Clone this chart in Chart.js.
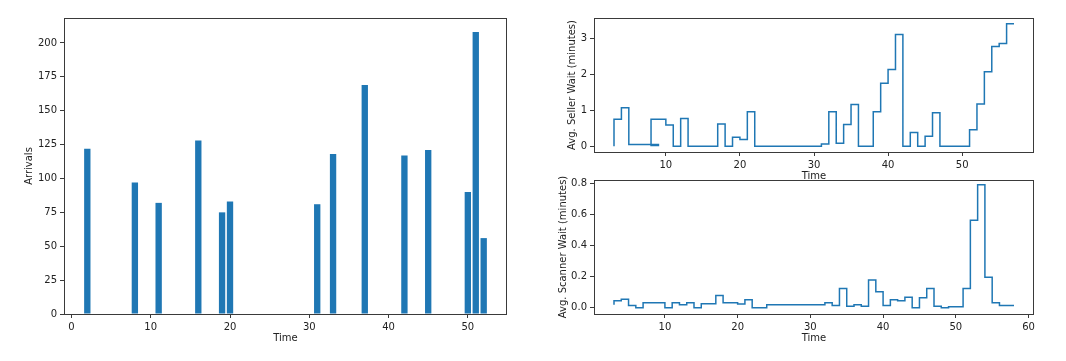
<!DOCTYPE html>
<html>
<head>
<meta charset="utf-8">
<script src="https://cdn.jsdelivr.net/npm/chart.js@4/dist/chart.umd.min.js"></script>
<style>
  html, body { margin: 0; padding: 0; background: #ffffff; }
  body { width: 1066px; height: 361px; position: relative; overflow: hidden; }
  canvas { position: absolute; }
</style>
</head>
<body>
<canvas id="c1" width="520" height="361" style="left:0px;top:0px;"></canvas>
<canvas id="c2" width="546" height="190" style="left:520px;top:0px;"></canvas>
<canvas id="c3" width="546" height="201" style="left:520px;top:160px;"></canvas>
<script>
// ---------- DATA ----------
const arrivalTimes = [2, 8, 11, 16, 19, 20, 31, 33, 37, 42, 45, 50, 51, 52];
const arrivals     = [122, 97, 82, 128, 75, 83, 81, 118, 169, 117, 121, 90, 208, 56];

const sellerTimes = [3, 4, 5, 6, 7, 8, 9, 8, 10, 11, 12, 13, 14, 15, 16, 17, 18, 19, 20, 21, 22,
  23, 24, 25, 26, 27, 28, 29, 30, 31, 32, 33, 34, 35, 36, 37, 38, 39, 40, 41, 42, 43, 44, 45,
  46, 47, 48, 49, 50, 51, 52, 53, 54, 55, 56, 57];
const sellerWait = [0, 0.75, 1.07, 0.05, 0.05, 0.05, 0.05, 0.02, 0.75, 0.59, 0, 0.77, 0, 0, 0, 0,
  0.62, 0, 0.25, 0.19, 0.96,
  0, 0, 0, 0, 0, 0, 0, 0, 0, 0.06, 0.96, 0.08, 0.6, 1.16, 0, 0, 0.96, 1.75, 2.13, 3.1, 0, 0.38, 0,
  0.28, 0.93, 0, 0, 0, 0, 0.46, 1.17, 2.07, 2.77, 2.85, 3.4];

const scannerTimes = [3, 4, 5, 6, 7, 8, 9, 10, 11, 12, 13, 14, 15, 16, 17, 18, 19, 20, 21, 22,
  23, 24, 25, 26, 27, 28, 29, 30, 31, 32, 33, 34, 35, 36, 37, 38, 39, 40, 41, 42, 43, 44, 45,
  46, 47, 48, 49, 50, 51, 52, 53, 54, 55, 56, 57, 58];
const scannerWait = [0.02, 0.045, 0.055, 0.015, 0.0, 0.032, 0.032, 0.032, 0.0, 0.032, 0.019,
  0.032, 0.0, 0.025, 0.025, 0.079, 0.032, 0.032, 0.024, 0.051,
  0.0, 0.0, 0.019, 0.019, 0.019, 0.019, 0.019, 0.019, 0.019, 0.019, 0.032, 0.015, 0.124, 0.009,
  0.019, 0.009, 0.179, 0.102, 0.015, 0.051, 0.045, 0.068, 0.0, 0.064, 0.124, 0.009, 0.0, 0.007,
  0.007, 0.124, 0.561, 0.789, 0.196, 0.032, 0.015, 0.015];

const arrivalsXTicks = [0, 10, 20, 30, 40, 50];
const arrivalsYTicks = [0, 25, 50, 75, 100, 125, 150, 175, 200];
const sellerXTicks   = [10, 20, 30, 40, 50];
const sellerYTicks   = [0, 1, 2, 3];
const scannerXTicks  = [10, 20, 30, 40, 50, 60];
const scannerYTicks  = [0, 0.2, 0.4, 0.6, 0.8];

// ---------- STYLE ----------
const BLUE = '#1f77b4';
const SPINE = '#3a3a3a';
const TEXT = '#222222';
Chart.defaults.font.family = "'DejaVu Sans', sans-serif";
Chart.defaults.font.size = 10;
Chart.defaults.color = TEXT;

const framePlugin = {
  id: 'frame',
  beforeDraw(chart) {
    const a = chart.chartArea, ctx = chart.ctx;
    ctx.save();
    ctx.fillStyle = '#ffffff';
    ctx.fillRect(a.left, a.top, a.right - a.left, a.bottom - a.top);
    ctx.restore();
  },
  afterDraw(chart) {
    const a = chart.chartArea, ctx = chart.ctx;
    ctx.save();
    ctx.strokeStyle = SPINE;
    ctx.lineWidth = 1;
    ctx.strokeRect(Math.round(a.left) + 0.5, Math.round(a.top) + 0.5,
                   Math.round(a.right - a.left) - 1, Math.round(a.bottom - a.top));
    ctx.restore();
  }
};

function gridOpts() {
  return { display: true, drawOnChartArea: false, drawTicks: true, tickLength: 4,
           color: SPINE, lineWidth: 1, offset: false };
}

function xAxis(min, max, ticks, height, titlePadBottom) {
  return {
    type: 'linear', position: 'bottom', min: min, max: max, offset: false,
    grid: gridOpts(), border: { display: false },
    ticks: { padding: 3, color: TEXT, maxRotation: 0, autoSkip: false,
             callback: v => String(v) },
    afterBuildTicks: s => { s.ticks = ticks.map(v => ({ value: v })); },
    afterFit: s => { s.height = height; },
    title: { display: true, text: 'Time', color: TEXT, padding: { top: 0, bottom: titlePadBottom } }
  };
}

function yAxis(min, max, ticks, width, title, titlePadTop, fmt) {
  return {
    type: 'linear', position: 'left', min: min, max: max,
    grid: gridOpts(), border: { display: false },
    ticks: { padding: 3, color: TEXT, autoSkip: false, callback: fmt },
    afterBuildTicks: s => { s.ticks = ticks.map(v => ({ value: v })); },
    afterFit: s => { s.width = width; },
    title: { display: true, text: title, color: TEXT, padding: { top: titlePadTop, bottom: 0 } }
  };
}

const common = {
  responsive: false, animation: false, devicePixelRatio: 1,
  plugins: { legend: { display: false }, tooltip: { enabled: false } }
};

// ---------- CHART 1: Arrivals ----------
new Chart(document.getElementById('c1'), {
  type: 'bar',
  data: {
    datasets: [{
      data: arrivalTimes.map((t, i) => ({ x: t, y: arrivals[i] })),
      backgroundColor: BLUE, borderWidth: 0,
      barPercentage: 0.8, categoryPercentage: 1.0
    }]
  },
  options: Object.assign({}, common, {
    layout: { autoPadding: false, padding: { left: 0, top: 18, right: 13, bottom: 0 } },
    scales: {
      x: xAxis(-0.94, 54.94, arrivalsXTicks, 47, 17),
      y: yAxis(0, 218.4, arrivalsYTicks, 64, 'Arrivals', 23, v => String(v))
    }
  }),
  plugins: [framePlugin]
});

// ---------- CHART 2: Seller wait ----------
new Chart(document.getElementById('c2'), {
  type: 'line',
  data: {
    datasets: [{
      data: sellerTimes.map((t, i) => ({ x: t, y: sellerWait[i] })),
      borderColor: BLUE, borderWidth: 1.5, pointRadius: 0, fill: false,
      stepped: 'after', tension: 0
    }]
  },
  options: Object.assign({}, common, {
    layout: { autoPadding: false, padding: { left: 0, top: 18, right: 32, bottom: 0 } },
    scales: {
      x: xAxis(0.3, 59.7, sellerXTicks, 38, 8),
      y: yAxis(-0.16, 3.56, sellerYTicks, 74, 'Avg. Seller Wait (minutes)', 46, v => String(v))
    }
  }),
  plugins: [framePlugin]
});

// ---------- CHART 3: Scanner wait ----------
new Chart(document.getElementById('c3'), {
  type: 'line',
  data: {
    datasets: [{
      data: scannerTimes.map((t, i) => ({ x: t, y: scannerWait[i] })),
      borderColor: BLUE, borderWidth: 1.5, pointRadius: 0, fill: false,
      stepped: 'after', tension: 0
    }]
  },
  options: Object.assign({}, common, {
    layout: { autoPadding: false, padding: { left: 0, top: 20, right: 32, bottom: 0 } },
    scales: {
      x: xAxis(0.25, 60.75, scannerXTicks, 47, 17),
      y: yAxis(-0.04, 0.82, scannerYTicks, 74, 'Avg. Scanner Wait (minutes)', 37, v => v.toFixed(1))
    }
  }),
  plugins: [framePlugin]
});
</script>
</body>
</html>
